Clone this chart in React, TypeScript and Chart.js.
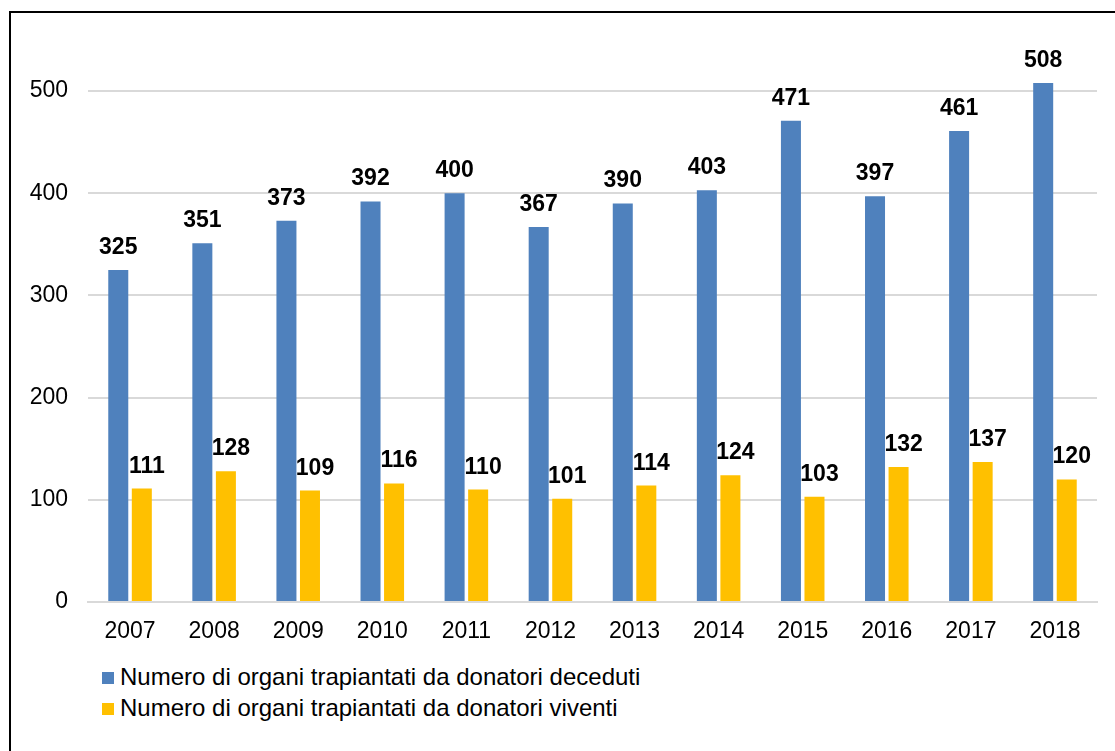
import React, { useEffect, useRef } from "react";
import { Chart, registerables } from "chart.js";

Chart.register(...registerables);

const years = ["2007", "2008", "2009", "2010", "2011", "2012", "2013", "2014", "2015", "2016", "2017", "2018"];
const deceased = [325, 351, 373, 392, 400, 367, 390, 403, 471, 397, 461, 508];
const living = [111, 128, 109, 116, 110, 101, 114, 124, 103, 132, 137, 120];
const seriesNames = [
  "Numero di organi trapiantati da donatori deceduti",
  "Numero di organi trapiantati da donatori viventi",
];
const seriesColors = ["#4F81BD", "#FFC000"];

const FONT = "'Liberation Sans', Arial, sans-serif";

const labelPlugin = {
  id: "barLabels",
  afterDatasetsDraw(chart: any) {
    const ctx = chart.ctx;
    ctx.save();
    ctx.font = `bold 23px ${FONT}`;
    ctx.fillStyle = "#000";
    ctx.textAlign = "center";
    ctx.textBaseline = "alphabetic";
    chart.data.datasets.forEach((ds: any, di: number) => {
      const meta = chart.getDatasetMeta(di);
      meta.data.forEach((bar: any, i: number) => {
        const dx = di === 1 ? 5 : 0;
        ctx.fillText(String(ds.data[i]), bar.x + dx, bar.y - 16);
      });
    });
    ctx.restore();
  },
};

export default function App() {
  const ref = useRef<HTMLCanvasElement | null>(null);

  useEffect(() => {
    if (!ref.current) return;
    const chart = new Chart(ref.current, {
      type: "bar",
      data: {
        labels: years,
        datasets: [
          {
            label: seriesNames[0],
            data: deceased,
            backgroundColor: seriesColors[0],
            categoryPercentage: 0.56,
            barPercentage: 0.85,
          },
          {
            label: seriesNames[1],
            data: living,
            backgroundColor: seriesColors[1],
            categoryPercentage: 0.56,
            barPercentage: 0.85,
          },
        ],
      },
      options: {
        animation: false,
        responsive: false,
        maintainAspectRatio: false,
        layout: { padding: { left: 10, right: 18, top: 40, bottom: 0 } },
        plugins: {
          legend: { display: false },
          tooltip: { enabled: false },
        },
        scales: {
          x: {
            grid: { display: false, drawTicks: false },
            border: { display: true, color: "#D9D9D9", width: 2 },
            ticks: {
              color: "#000",
              font: { family: FONT, size: 23 },
              padding: 16,
              maxRotation: 0,
            },
            afterFit: (scale: any) => {
              scale.height = 48;
            },
          },
          y: {
            min: 0,
            max: 550,
            grid: { color: "#D9D9D9", lineWidth: 2, drawTicks: false },
            border: { display: false },
            ticks: {
              stepSize: 50,
              color: "#000",
              font: { family: FONT, size: 23 },
              padding: 20,
            },
            afterBuildTicks: (scale: any) => {
              scale.ticks = scale.ticks.filter((t: any) => t.value % 100 === 0);
            },
            afterFit: (scale: any) => {
              scale.width = 78;
            },
          },
        },
      },
      plugins: [labelPlugin],
    });
    return () => chart.destroy();
  }, []);

  const legendItem = (i: number, top: number) => (
    <div
      key={i}
      style={{
        position: "absolute",
        left: 102,
        top,
        height: 30,
        display: "flex",
        alignItems: "center",
        fontFamily: FONT,
        fontSize: 24,
        lineHeight: "30px",
        color: "#000",
        whiteSpace: "nowrap",
      }}
    >
      <span style={{ display: "inline-block", width: 12, height: 12, background: seriesColors[i], marginRight: 6, marginTop: 2 }} />
      <span>{seriesNames[i]}</span>
    </div>
  );

  return (
    <div style={{ position: "fixed", left: 0, top: 0, width: 1115, height: 751, background: "#fff", overflow: "hidden" }}>
      <div
        style={{
          position: "absolute",
          left: 9,
          top: 11,
          width: 1200,
          height: 800,
          border: "2px solid #000",
          boxSizing: "border-box",
        }}
      />
      <canvas ref={ref} width={1115} height={650} style={{ position: "absolute", left: 0, top: 0, width: 1115, height: 650 }} />
      {legendItem(0, 662)}
      {legendItem(1, 693)}
    </div>
  );
}
